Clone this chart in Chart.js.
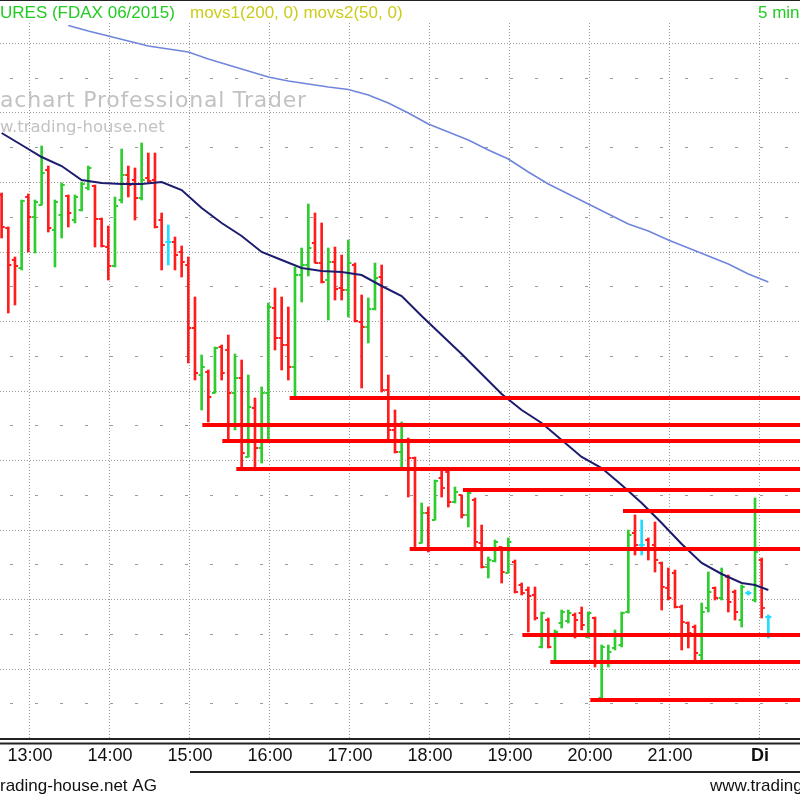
<!DOCTYPE html>
<html>
<head>
<meta charset="utf-8">
<title>FDAX 06/2015 - 5 min</title>
<script src="https://cdn.jsdelivr.net/npm/chart.js@4.4.1/dist/chart.umd.min.js"></script>
<style>
  html, body { margin: 0; padding: 0; background: #fff; }
  #wrap { width: 800px; height: 800px; }
</style>
</head>
<body>
<div id="wrap"><canvas id="fdax" width="800" height="800"></canvas></div>
<script>
// bar index 0 = the 13:00 bar, one bar = 5 minutes
const firstBar = -4;

const opens = [
  11805, 11772, 11740, 11732, 11803, 11783, 11795, 11830, 11770, 11785,
  11804, 11780, 11790, 11812, 11814, 11781, 11753, 11734, 11800, 11825,
  11820, 11802, 11822, 11820, 11780, 11758, 11758, 11748, 11735, 11672,
  11625, 11628, 11607, 11653, 11650, 11607, 11622, 11543, 11592, 11552,
  11607, 11692, 11662, 11655, 11633, 11725, 11735, 11757, 11737, 11720,
  11738, 11712, 11710, 11735, 11678, 11673, 11691, 11723, 11610, 11570,
  11548, 11560, 11542, 11457, 11487, 11480, 11522, 11528, 11498, 11505,
  11485, 11500, 11457, 11433, 11439, 11453, 11427, 11438, 11415, 11410,
  11405, 11353, 11380, 11339, 11377, 11379, 11385, 11387, 11363, 11382,
  11302, 11338, 11352, 11355, 11388, 11467, 11455, 11460, 11455, 11437,
  11412, 11427, 11393, 11377, 11373, 11345, 11392, 11412, 11402, 11423,
  11408, 11380, 11407, 11400, 11440, 11383
];
const highs = [
  11807, 11773, 11743, 11800, 11806, 11800, 11854, 11834, 11800, 11817,
  11805, 11805, 11818, 11834, 11815, 11782, 11774, 11803, 11851, 11834,
  11832, 11857, 11847, 11847, 11787, 11775, 11763, 11754, 11743, 11703,
  11645, 11630, 11653, 11655, 11665, 11646, 11640, 11625, 11602, 11613,
  11697, 11712, 11703, 11693, 11733, 11752, 11796, 11787, 11777, 11752,
  11753, 11745, 11760, 11737, 11705, 11702, 11737, 11735, 11625, 11590,
  11578, 11562, 11543, 11497, 11493, 11520, 11532, 11530, 11513, 11505,
  11508, 11502, 11475, 11443, 11460, 11453, 11462, 11440, 11417, 11413,
  11413, 11388, 11382, 11370, 11390, 11390, 11387, 11393, 11388, 11383,
  11355, 11355, 11370, 11388, 11470, 11485, 11480, 11462, 11478, 11438,
  11432, 11430, 11395, 11378, 11375, 11397, 11428, 11413, 11432, 11425,
  11410, 11415, 11409, 11502, 11442, 11385
];
const lows = [
  11762, 11687, 11695, 11730, 11748, 11747, 11795, 11768, 11733, 11762,
  11773, 11777, 11789, 11810, 11753, 11753, 11720, 11733, 11797, 11803,
  11780, 11800, 11817, 11772, 11730, 11735, 11730, 11723, 11637, 11620,
  11590, 11578, 11607, 11620, 11558, 11570, 11530, 11543, 11530, 11537,
  11560, 11650, 11630, 11620, 11603, 11698, 11724, 11737, 11717, 11680,
  11700, 11700, 11683, 11678, 11612, 11657, 11690, 11608, 11560, 11547,
  11532, 11503, 11450, 11457, 11448, 11480, 11503, 11493, 11497, 11482,
  11473, 11452, 11432, 11422, 11438, 11417, 11427, 11407, 11405, 11368,
  11380, 11352, 11352, 11338, 11372, 11377, 11362, 11370, 11362, 11333,
  11300, 11333, 11350, 11353, 11387, 11445, 11445, 11440, 11428, 11390,
  11400, 11392, 11350, 11352, 11338, 11338, 11388, 11400, 11400, 11388,
  11380, 11373, 11405, 11398, 11382, 11362
];
const closes = [
  11773, 11735, 11734, 11799, 11783, 11798, 11827, 11772, 11798, 11815,
  11787, 11803, 11816, 11832, 11781, 11754, 11734, 11794, 11825, 11815,
  11802, 11820, 11819, 11773, 11755, 11758, 11745, 11738, 11672, 11627,
  11633, 11603, 11652, 11627, 11607, 11622, 11547, 11593, 11552, 11607,
  11693, 11662, 11655, 11633, 11725, 11735, 11752, 11737, 11718, 11738,
  11711, 11710, 11737, 11679, 11673, 11691, 11722, 11610, 11570, 11548,
  11575, 11542, 11452, 11487, 11450, 11519, 11512, 11498, 11508, 11485,
  11507, 11458, 11433, 11440, 11458, 11428, 11458, 11408, 11407, 11404,
  11382, 11387, 11353, 11368, 11388, 11387, 11380, 11375, 11387, 11338,
  11353, 11348, 11365, 11387, 11465, 11455, 11455, 11450, 11440, 11413,
  11402, 11393, 11378, 11367, 11347, 11388, 11408, 11402, 11425, 11398,
  11388, 11413, 11407, 11448, 11392, 11383
];

// moving averages at every third bar
const movs1Bars = [6, 9, 12, 15, 18, 21, 24, 27, 30, 33, 36, 39, 42, 45, 48, 51, 54, 57,
  60, 63, 66, 69, 72, 75, 78, 81, 84, 87, 90, 93, 96, 99, 102, 105, 108, 111];
const movs1 = [11974.5, 11969, 11964, 11959, 11954, 11951, 11948, 11941, 11935, 11929,
  11923, 11919, 11916, 11913, 11910.5, 11905, 11897, 11887, 11876, 11868, 11860, 11850,
  11841, 11828, 11816, 11806, 11796, 11786, 11776, 11769, 11760, 11752, 11744, 11736,
  11726, 11718];
const movs2Bars = [-4, -1, 2, 5, 8, 11, 14, 17, 20, 23, 26, 29, 32, 35, 38, 41, 44, 47,
  50, 53, 56, 59, 62, 65, 68, 71, 74, 77, 80, 83, 86, 89, 92, 95, 98, 101, 104, 107, 109, 111];
const movs2 = [11867, 11855, 11843, 11834, 11820, 11817, 11816, 11816, 11818, 11810,
  11792, 11777, 11764, 11748, 11740, 11732, 11729, 11728, 11725, 11714, 11704, 11684,
  11665, 11646, 11626, 11606, 11590, 11577, 11560, 11543, 11532, 11515, 11497, 11477,
  11456, 11437, 11426, 11417, 11415, 11410];

// horizontal support / resistance lines: level and the bar they start from
const supportLevels = [11602, 11575, 11559, 11531, 11510, 11451, 11489, 11365, 11338, 11300];
const supportFrom = [39.2, 26.1, 29.1, 31.2, 65.2, 57.2, 89.2, 74.1, 78.3, 84.3];

const timeTicks = [0.25, 12.25, 24.25, 36.25, 48.25, 60.25, 72.25, 84.25, 96.25, 109.75];
const timeLabels = ['13:00', '14:00', '15:00', '16:00', '17:00', '18:00', '19:00', '20:00', '21:00', 'Di'];

const X_MIN = -4.245, X_MAX = 115.75;
const Y_MIN = 11262, Y_MAX = 11977;

const RED = '#ff1c1c';
const GREEN = '#2ecc2e';
const CYAN = '#22ddff';

function barColor(i) {
    if (closes[i] > opens[i]) return GREEN;
    if (closes[i] < opens[i]) return RED;
    return CYAN;
}

const rangeData = opens.map((o, i) => ({ x: firstBar + i, y: [lows[i], highs[i]] }));
const openData = opens.map((o, i) => ({ x: firstBar + i - 0.22, y: o }));
const closeData = closes.map((c, i) => ({ x: firstBar + i + 0.22, y: c }));

const supportSets = supportLevels.map((lvl, k) => ({
    type: 'line',
    data: [{ x: supportFrom[k], y: lvl }, { x: X_MAX, y: lvl }],
    borderColor: '#ff0000',
    borderWidth: 4,
    borderCapStyle: 'butt',
    pointRadius: 0,
    order: 0
}));

const decor = {
    id: 'decor',
    beforeDraw(chart) {
        const c = chart.ctx;
        c.save();
        c.fillStyle = '#fff';
        c.fillRect(0, 0, chart.width, chart.height);
        c.restore();
    },
    beforeDatasetsDraw(chart) {
        const c = chart.ctx;
        c.save();
        c.fillStyle = '#c2c2c2';
        c.textBaseline = 'alphabetic';
        c.textAlign = 'left';
        c.font = '22px "DejaVu Sans"';
        c.letterSpacing = '0.8px';
        c.fillText('achart Professional Trader', 0, 107);
        c.font = '16.5px "DejaVu Sans"';
        c.letterSpacing = '0px';
        c.fillText('w.trading-house.net', 0, 132);
        c.restore();
    },
    afterDraw(chart) {
        const c = chart.ctx;
        c.save();
        // frame lines
        c.strokeStyle = '#222';
        c.lineWidth = 1;
        c.beginPath();
        c.moveTo(0, 0.5); c.lineTo(800, 0.5);
        c.stroke();
        c.lineWidth = 2;
        c.beginPath();
        c.moveTo(0, 739); c.lineTo(800, 739);
        c.moveTo(0, 743.5); c.lineTo(800, 743.5);
        c.moveTo(190, 772); c.lineTo(800, 772);
        c.stroke();

        // header
        c.textBaseline = 'alphabetic';
        c.textAlign = 'left';
        c.font = '17px "Liberation Sans"';
        c.fillStyle = '#22cc22';
        c.fillText('URES (FDAX 06/2015)', 0, 18);
        c.fillStyle = '#cccc1a';
        c.fillText('movs1(200, 0) movs2(50, 0)', 190, 18);
        c.fillStyle = '#22cc22';
        c.fillText('5 min', 758, 18);

        // footer
        c.fillStyle = '#111';
        c.fillText('rading-house.net AG', 0, 791);
        c.fillText('www.trading-house.net', 710, 791);
        c.restore();
    }
};

new Chart(document.getElementById('fdax'), {
    type: 'bar',
    data: {
        datasets: [
            ...supportSets,
            {
                type: 'line',
                label: 'movs2(50, 0)',
                data: movs2Bars.map((b, i) => ({ x: b, y: movs2[i] })),
                borderColor: '#1c1c6e',
                borderWidth: 2,
                pointRadius: 0,
                tension: 0,
                order: 1
            },
            {
                type: 'line',
                label: 'movs1(200, 0)',
                data: movs1Bars.map((b, i) => ({ x: b, y: movs1[i] })),
                borderColor: '#6f86dc',
                borderWidth: 1.6,
                pointRadius: 0,
                tension: 0,
                order: 1
            },
            {
                type: 'line',
                label: 'open',
                data: openData,
                showLine: false,
                pointStyle: 'line',
                pointRadius: 1.6,
                pointHoverRadius: 1.6,
                pointBorderWidth: 2,
                pointBorderColor: ctx => barColor(ctx.dataIndex),
                order: 2
            },
            {
                type: 'line',
                label: 'close',
                data: closeData,
                showLine: false,
                pointStyle: 'line',
                pointRadius: 1.6,
                pointHoverRadius: 1.6,
                pointBorderWidth: 2,
                pointBorderColor: ctx => barColor(ctx.dataIndex),
                order: 2
            },
            {
                type: 'bar',
                label: 'FDAX 06/2015',
                data: rangeData,
                backgroundColor: ctx => barColor(ctx.dataIndex),
                barThickness: 2,
                grouped: false,
                order: 3
            }
        ]
    },
    options: {
        responsive: false,
        animation: false,
        layout: { autoPadding: false, padding: { top: 23, left: 0, right: 0, bottom: 0 } },
        plugins: {
            legend: { display: false },
            tooltip: { enabled: false }
        },
        scales: {
            x: {
                type: 'linear',
                position: 'bottom',
                min: X_MIN,
                max: X_MAX,
                offset: false,
                afterBuildTicks(scale) {
                    scale.ticks = timeTicks.map(v => ({ value: v }));
                },
                afterFit(scale) {
                    scale.height = 62;
                },
                ticks: {
                    autoSkip: false,
                    maxRotation: 0,
                    padding: 7,
                    color: '#111',
                    font: ctx => ({
                        family: 'Liberation Sans',
                        size: 18,
                        weight: ctx.index === timeLabels.length - 1 ? 'bold' : 'normal'
                    }),
                    callback: (value, index) => timeLabels[index]
                },
                grid: {
                    offset: false,
                    color: '#9a9a9a',
                    lineWidth: 1,
                    drawTicks: false
                },
                border: { display: false, dash: [1, 2] }
            },
            y: {
                type: 'linear',
                position: 'left',
                min: Y_MIN,
                max: Y_MAX,
                afterBuildTicks(scale) {
                    const t = [];
                    for (let k = 0; k < 20; k++) {
                        t.push({ value: 12000 - (43.5 + 34.75 * k), kind: k % 2 === 0 ? 'major' : 'minor' });
                    }
                    scale.ticks = t;
                },
                afterFit(scale) {
                    scale.width = 0;
                },
                ticks: { display: false },
                grid: {
                    color: '#9a9a9a',
                    lineWidth: 1,
                    drawTicks: false
                },
                border: {
                    display: false,
                    dash: ctx => (ctx.tick && ctx.tick.kind === 'major') ? [1, 2] : [3, 22],
                    dashOffset: ctx => (ctx.tick && ctx.tick.kind === 'major') ? 0 : 15
                }
            }
        }
    },
    plugins: [decor]
});
</script>
</body>
</html>
